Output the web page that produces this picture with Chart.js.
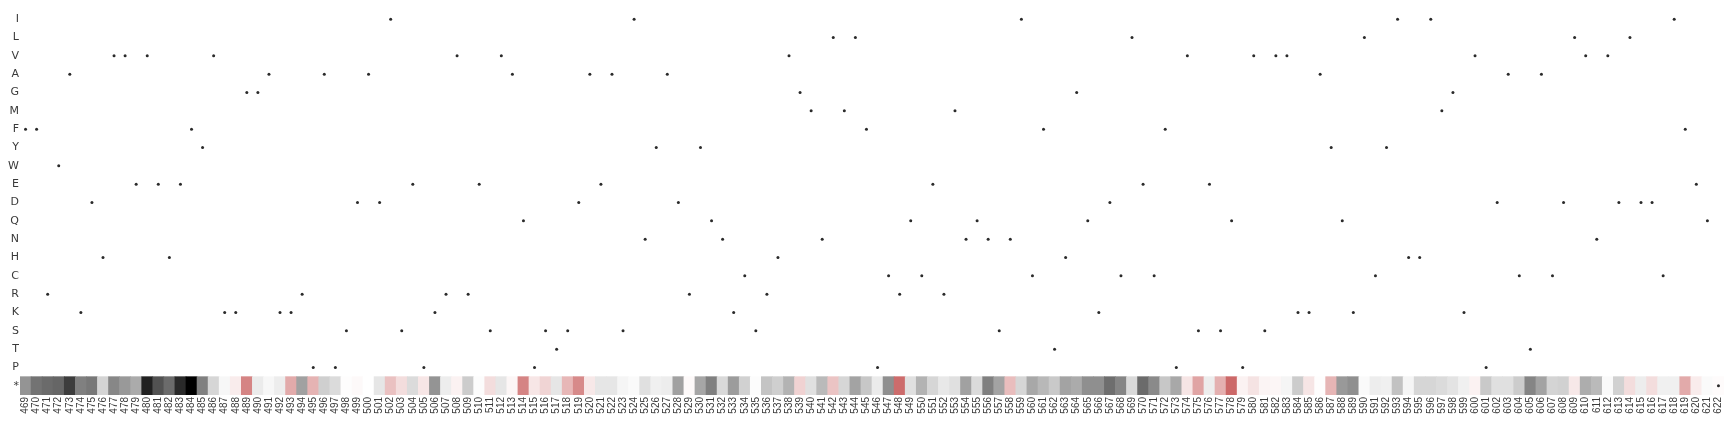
<!DOCTYPE html>
<html>
<head>
<meta charset="utf-8">
<script src="https://cdn.jsdelivr.net/npm/chart.js@4.4.1/dist/chart.umd.min.js"></script>
<style>
  html, body { margin: 0; padding: 0; background: #fff; }
  #wrap { width: 1735px; height: 424px; }
</style>
</head>
<body>
<div id="wrap"><canvas id="heat"></canvas></div>
<script>
// rows, top to bottom
const residues = ['I','L','V','A','G','M','F','Y','W','E','D','Q','N','H','C','R','K','S','T','P','*'];

// sequence positions 469..622
const firstPos = 469;
const lastPos = 622;
const positions = [];
for (let p = firstPos; p <= lastPos; p++) positions.push(String(p));

// wild type residue at each position (the dots)
const wildType = ('FFRWAKDHVVEVEHEFYVKKGGAKK' +
                  'RPAPSDADISEPKRVRESVAQP' +
                  'STSDAEASINYADRYQNKCSR' +
                  'HVGMNLMLFPCRQCERMNQNSN' +
                  'ICFTHGQKDCLECFPVSESQPV' +
                  'SVVKKAYQKLCYIHHIMGKVP' +
                  'DACTACDLVNVDLDDCIFEQ*').split('');

// stop codon row scores (negative = grey, positive = red)
const stopScores = [
  -0.42,-0.55,-0.58,-0.6,-0.76,-0.5,-0.53,-0.17,-0.47,-0.4,-0.33,-0.87,-0.68,-0.58,-0.84,-1.0,-0.5,-0.16,-0.03,0.1,0.65,-0.08,-0.03,-0.07,0.45,
  -0.37,0.4,-0.19,-0.14,0.01,0.03,0,-0.1,0.33,0.18,-0.14,0.13,-0.42,-0.07,0.07,-0.2,-0.01,0.18,-0.1,0.05,0.65,0.13,
  0.23,-0.1,0.38,0.62,0.12,-0.1,-0.1,-0.04,-0.02,-0.12,-0.06,-0.07,-0.37,0.03,-0.35,-0.5,-0.15,-0.39,-0.18,-0.01,-0.23,
  -0.19,-0.3,0.24,-0.12,-0.27,0.31,-0.16,-0.36,-0.22,-0.08,-0.44,0.78,-0.12,-0.3,-0.16,-0.09,-0.12,-0.37,-0.14,-0.5,-0.36,0.35,
  -0.16,-0.34,-0.28,-0.21,-0.36,-0.33,-0.44,-0.44,-0.57,-0.48,-0.15,-0.58,-0.46,-0.22,-0.34,0.14,0.48,-0.07,0.42,0.8,0.07,0.15,
  0.06,0.05,-0.04,-0.2,0.14,0.01,0.39,-0.4,-0.44,-0.02,-0.07,-0.06,-0.24,-0.04,-0.16,-0.16,-0.14,-0.11,-0.06,0.07,-0.21,
  -0.12,-0.12,-0.2,-0.48,-0.36,-0.17,-0.18,0.12,-0.32,-0.27,-0.02,-0.18,0.18,-0.07,0.18,-0.06,-0.06,0.45,0.1,-0.02,0.02
];

const stopRow = residues.indexOf('*');

function scoreColor(v) {
  if (v < 0) {
    const l = Math.round(255 * (1 + v));
    return `rgb(${l},${l},${l})`;
  }
  const r = Math.round(255 - v * 64);
  const g = Math.round(255 - v * 189);
  return `rgb(${r},${g},${g})`;
}

const dots = wildType.map(function (aa, i) {
  return { x: positions[i], y: residues.indexOf(aa) };
});

new Chart(document.getElementById('heat'), {
  type: 'bar',
  data: {
    labels: positions,
    datasets: [
      {
        type: 'scatter',
        data: dots,
        backgroundColor: '#2a2a2a',
        borderColor: '#2a2a2a',
        pointRadius: 1.5,
        pointBorderWidth: 0,
        order: 0
      },
      {
        type: 'bar',
        data: stopScores.map(() => [stopRow - 0.5, stopRow + 0.5]),
        backgroundColor: stopScores.map(scoreColor),
        borderWidth: 0,
        barPercentage: 1,
        categoryPercentage: 1,
        order: 1
      }
    ]
  },
  options: {
    responsive: true,
    maintainAspectRatio: false,
    animation: false,
    layout: { padding: { top: 10, right: 11, left: 0, bottom: 0 } },
    plugins: { legend: { display: false }, tooltip: { enabled: false } },
    scales: {
      x: {
        type: 'category',
        offset: true,
        grid: { display: false, drawTicks: false },
        border: { display: false },
        ticks: {
          autoSkip: false,
          minRotation: 90,
          maxRotation: 90,
          padding: 2,
          color: '#3a3a3a',
          font: { family: 'Liberation Sans', size: 10 }
        },
        afterFit: function (scale) { scale.height = 29; }
      },
      y: {
        type: 'linear',
        reverse: true,
        min: -0.5,
        max: residues.length - 0.5,
        grid: { display: false, drawTicks: false },
        border: { display: false },
        afterBuildTicks: function (scale) {
          scale.ticks = residues.map((r, i) => ({ value: i }));
        },
        ticks: {
          padding: 1,
          color: '#3a3a3a',
          font: { family: 'DejaVu Sans', size: 11 },
          callback: function (value) { return residues[value]; }
        },
        afterFit: function (scale) { scale.width = 20; }
      }
    }
  }
});
</script>
</body>
</html>
